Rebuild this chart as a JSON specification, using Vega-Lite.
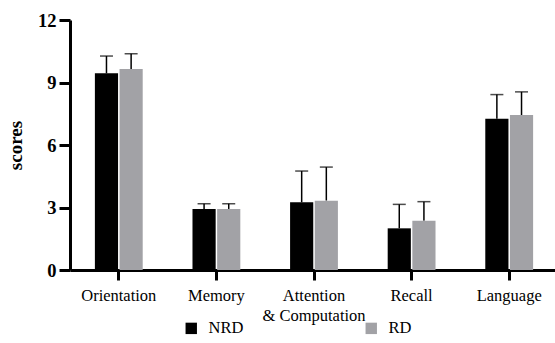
{
  "$schema": "https://vega.github.io/schema/vega-lite/v6.json",
  "width": 488,
  "height": 250,
  "autosize": {"type": "none"},
  "padding": {"left": 70, "top": 20, "right": 0, "bottom": 73},
  "background": "white",
  "config": {
    "view": {"stroke": null},
    "font": "Liberation Serif"
  },
  "data": {
    "values": [
      {"domain": "Orientation", "group": "NRD", "score": 9.44, "upper": 10.27},
      {"domain": "Orientation", "group": "RD", "score": 9.65, "upper": 10.38},
      {"domain": "Memory", "group": "NRD", "score": 2.93, "upper": 3.18},
      {"domain": "Memory", "group": "RD", "score": 2.93, "upper": 3.18},
      {"domain": "Attention & Computation", "group": "NRD", "score": 3.25, "upper": 4.75},
      {"domain": "Attention & Computation", "group": "RD", "score": 3.33, "upper": 4.94},
      {"domain": "Recall", "group": "NRD", "score": 2.0, "upper": 3.15},
      {"domain": "Recall", "group": "RD", "score": 2.37, "upper": 3.28},
      {"domain": "Language", "group": "NRD", "score": 7.26, "upper": 8.42},
      {"domain": "Language", "group": "RD", "score": 7.44, "upper": 8.55}
    ]
  },
  "encoding": {
    "x": {
      "field": "domain",
      "type": "nominal",
      "sort": ["Orientation", "Memory", "Attention & Computation", "Recall", "Language"],
      "scale": {"paddingInner": 0.51, "paddingOuter": 0.255},
      "axis": {
        "title": null,
        "labelAngle": 0,
        "labelFont": "Liberation Serif",
        "labelFontSize": 16.5,
        "labelColor": "black",
        "labelPadding": 7,
        "labelLineHeight": 20,
        "labelExpr": "datum.label == 'Attention & Computation' ? ['Attention', '& Computation'] : datum.label",
        "domainColor": "black",
        "domainWidth": 3,
        "tickColor": "black",
        "tickWidth": 3,
        "tickSize": 10,
        "grid": false
      }
    },
    "xOffset": {
      "field": "group",
      "type": "nominal",
      "sort": ["NRD", "RD"],
      "scale": {"paddingInner": 0.06}
    }
  },
  "layer": [
    {
      "mark": {"type": "rule", "color": "black", "strokeWidth": 1.5},
      "encoding": {
        "y": {"field": "score", "type": "quantitative"},
        "y2": {"field": "upper"}
      }
    },
    {
      "mark": {"type": "tick", "color": "black", "thickness": 1.5, "size": 13, "orient": "horizontal"},
      "encoding": {
        "y": {"field": "upper", "type": "quantitative"}
      }
    },
    {
      "mark": {"type": "bar"},
      "encoding": {
        "y": {
          "field": "score",
          "type": "quantitative",
          "scale": {"domain": [0, 12]},
          "axis": {
            "title": "scores",
            "titleFont": "Liberation Serif",
            "titleFontSize": 19,
            "titleFontWeight": "bold",
            "titleColor": "black",
            "titlePadding": 12,
            "values": [0, 3, 6, 9, 12],
            "labelFont": "Liberation Serif",
            "labelFontSize": 18.5,
            "labelFontWeight": "bold",
            "labelColor": "black",
            "labelPadding": 3,
            "domainColor": "black",
            "domainWidth": 3,
            "tickColor": "black",
            "tickWidth": 3,
            "tickSize": 11,
            "grid": false
          }
        },
        "color": {
          "field": "group",
          "type": "nominal",
          "sort": ["NRD", "RD"],
          "scale": {"domain": ["NRD", "RD"], "range": ["#000000", "#a2a2a6"]},
          "legend": {
            "title": null,
            "orient": "none",
            "legendX": 113,
            "legendY": 300,
            "direction": "horizontal",
            "symbolType": "square",
            "symbolSize": 130,
            "symbolStrokeWidth": 0,
            "labelFont": "Liberation Serif",
            "labelFontSize": 16.5,
            "labelColor": "black",
            "labelOffset": 9,
            "columnPadding": 119
          }
        }
      }
    }
  ]
}
